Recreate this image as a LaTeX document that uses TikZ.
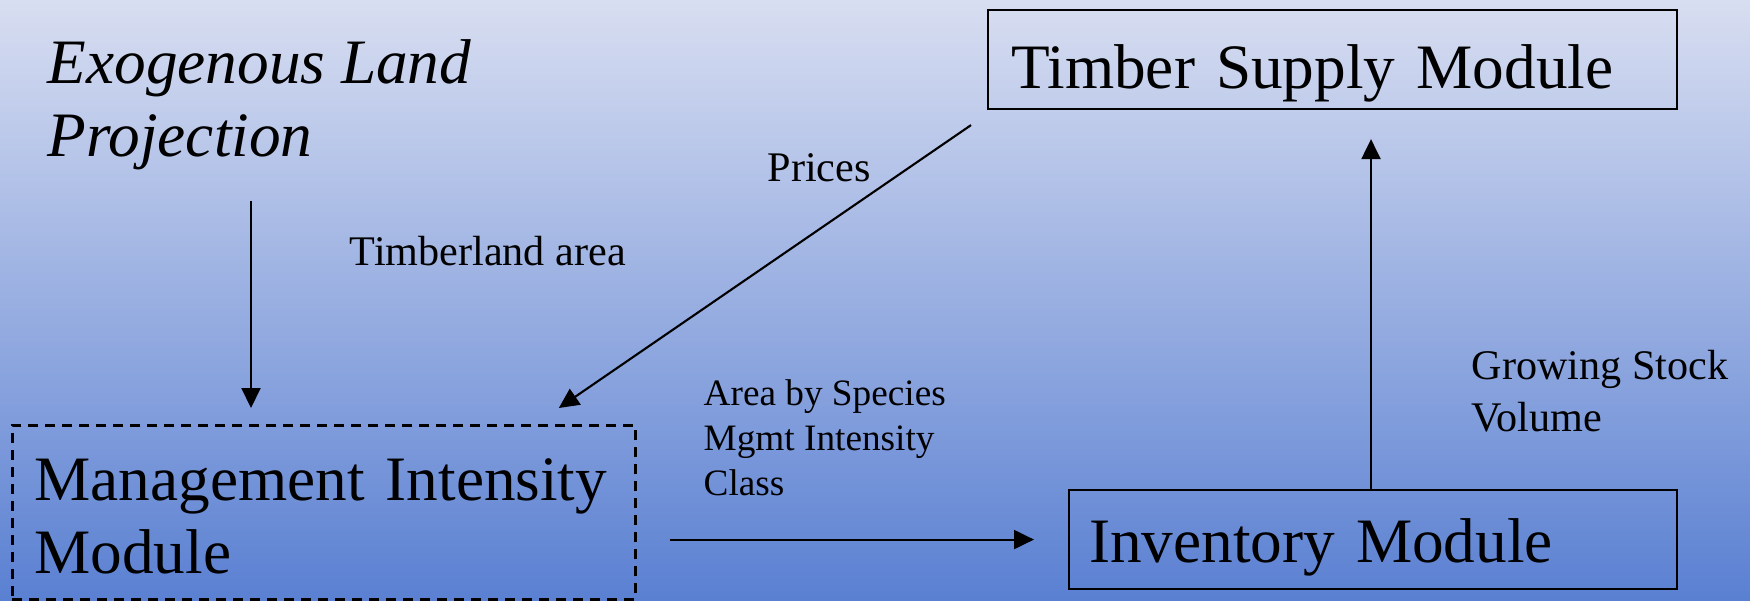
\documentclass[tikz,border=0pt]{standalone}
\usepackage{fontspec}
\setmainfont{Liberation Serif}
\usetikzlibrary{arrows.meta,positioning}

\definecolor{bgtop}{RGB}{216,222,241}
\definecolor{bgbot}{RGB}{90,128,210}

\begin{document}
\begin{tikzpicture}[
  box/.style={draw, line width=0.6pt, inner ysep=0pt, align=left, font=\fontsize{18}{20.7}\selectfont},
  title/.style={inner sep=0pt, align=left, font=\fontsize{18}{20.7}\selectfont\itshape},
  lbl/.style={inner sep=0pt, align=left, font=\fontsize{12}{14.7}\selectfont},
  small/.style={inner sep=0pt, align=left, font=\fontsize{10.6}{12.8}\selectfont},
  link/.style={->, line width=0.6pt},
  >={Triangle[length=2mm, width=1.9mm]}
]
\shade[top color=bgtop, bottom color=bgbot] (0,0) rectangle (17.5,-6);
\useasboundingbox (0,0) rectangle (17.5,-6);

\node[title, anchor=base west] (exo) at (0.47,-1.56) {Exogenous Land\\Projection};
\node[box, anchor=north west, minimum width=6.89cm, inner xsep=2.3mm, text width=6.43cm,
  text height=7.8mm, text depth=2.1mm] (timber) at (9.87,-0.09) {Timber Supply Module};
\node[box, dashed, dash pattern=on 1mm off 0.7mm, line width=0.8pt, anchor=north west,
  minimum width=6.23cm, inner xsep=2.2mm, text width=5.79cm,
  text height=7.5mm, text depth=9.9mm] (mgmt) at (0.11,-4.24) {Management Intensity\\Module};
\node[box, anchor=north west, minimum width=6.08cm, inner xsep=2mm, text width=5.68cm,
  text height=7.2mm, text depth=2.7mm] (inv) at (10.68,-4.89) {Inventory Module};

\node[lbl, anchor=base west] (tarea) at (3.49,-2.65) {Timberland area};
\node[lbl, anchor=base west] (price) at (7.67,-1.81) {Prices};
\node[small, anchor=base west] (spec) at (7.03,-4.95) {Area by Species\\Mgmt Intensity\\Class};
\node[lbl, anchor=base west] (gsv) at (14.71,-4.31) {Growing Stock\\Volume};

% connectors
\coordinate (exoin) at ([xshift=24mm]mgmt.north west);
\draw[link, shorten <=3.1mm, shorten >=1.6mm] (exoin |- exo.south) -- (exoin);
\draw[link] ([xshift=-1.6mm,yshift=-1.5mm]timber.south west) -- ([xshift=-7.8mm,yshift=1.6mm]mgmt.north east);
\draw[link, shorten <=3.3mm, shorten >=3.4mm] (mgmt.east |- inv.west) -- (inv.west);
\coordinate (gsx) at ([xshift=30.3mm]inv.north west);
\draw[link, shorten >=2.9mm] (gsx) -- (gsx |- timber.south);
\end{tikzpicture}
\end{document}
